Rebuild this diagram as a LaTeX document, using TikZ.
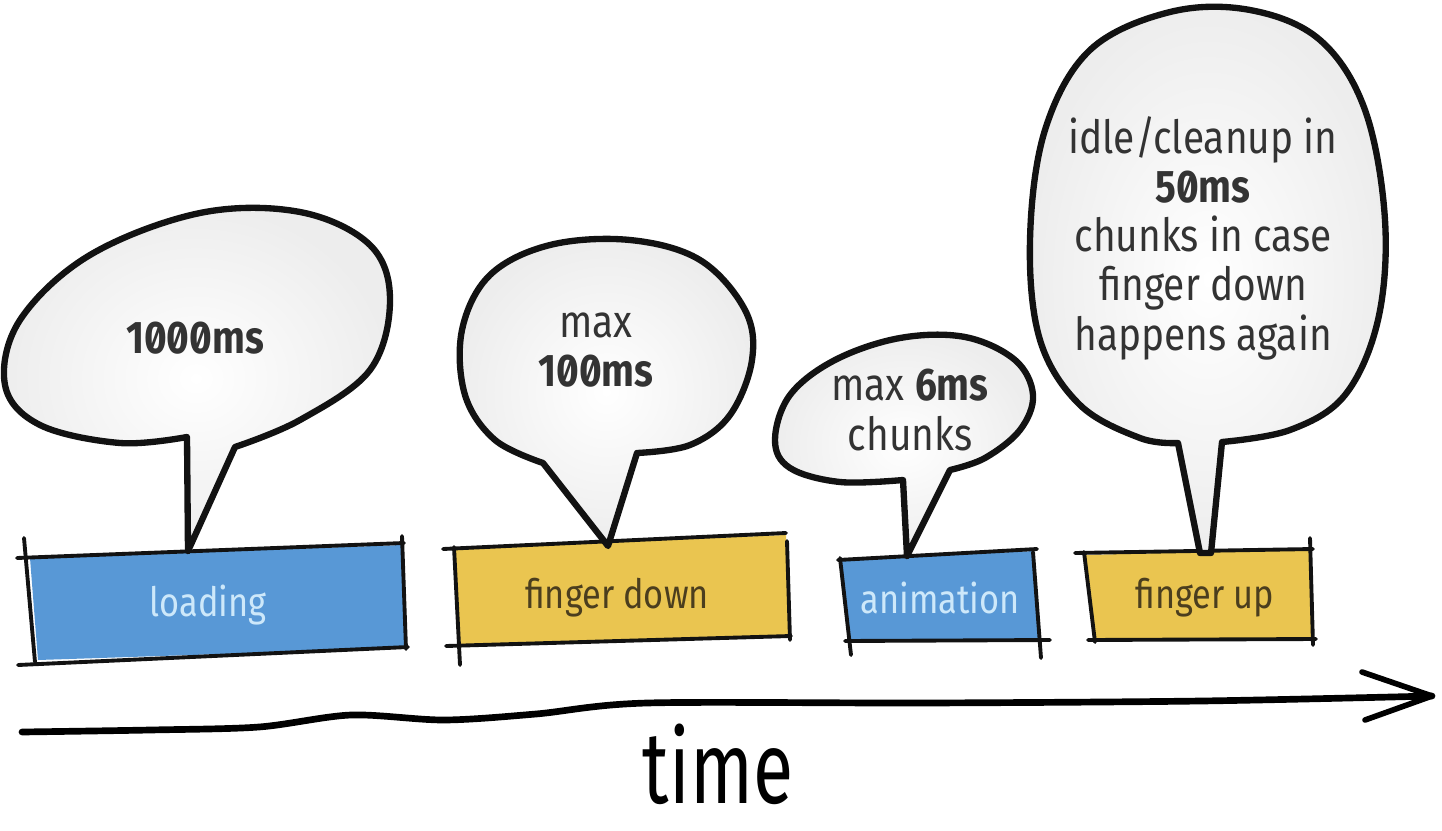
\documentclass[tikz,border=0pt]{standalone}
\usepackage{fontspec}
\setmainfont{Fira Sans}[FakeStretch=0.85,Numbers=SlashedZero]
\newfontfamily\timefont{Fira Sans}[FakeStretch=0.72]
\definecolor{loadblue}{RGB}{88,152,214}
\definecolor{tapyellow}{RGB}{234,197,80}
\definecolor{bluetext}{RGB}{205,232,250}
\definecolor{yellowtext}{RGB}{75,62,30}
\definecolor{ink}{RGB}{18,18,18}
\tikzset{
  bubble/.style={line width=1.8pt, draw=ink, inner color=white, outer color=black!7, line join=round},
  sketch/.style={line width=1.1pt, draw=ink, line cap=round},
  bubbletext/.style={font=\fontsize{13}{14}\selectfont, text=black!80, align=center},
  boxlabel/.style={font=\fontsize{11.5}{12}\selectfont},
}
\begin{document}
\begin{tikzpicture}[x=0.01cm,y=-0.01cm]
  \useasboundingbox (0,0) rectangle (1442,830);
  \coordinate (loadtip) at (188,551);
  \coordinate (taptip) at (608,546);
  \coordinate (animtip) at (907,556);
  \coordinate (uptipl) at (1200,553);
  \coordinate (uptipr) at (1211,553);
  \fill[loadblue] (30,558) -- (402,545) -- (405,648) -- (38,660) -- cycle;
  \draw[sketch] (17,558) -- (404,543);
  \draw[sketch] (24,538) -- (35,662);
  \draw[sketch] (18,665) -- (408,647);
  \draw[sketch] (402,536) -- (406,649);
  \node[boxlabel, text=bluetext] (loading) at (208,605) {loading};
  \fill[tapyellow] (455,548) -- (786,535) -- (789,637) -- (459,645) -- cycle;
  \draw[sketch] (443,549) -- (786,533);
  \draw[sketch] (454,547) -- (460,665);
  \draw[sketch] (446,646) -- (791,636);
  \draw[sketch] (787,541) -- (790,640);
  \node[boxlabel, text=yellowtext] (fingerdown) at (617,598) {finger down};
  \fill[loadblue] (841,560) -- (1034,551) -- (1038,640) -- (848,642) -- cycle;
  \draw[sketch] (838,560) -- (1037,549);
  \draw[sketch] (840,558) -- (851,655);
  \draw[sketch] (845,641) -- (1050,640);
  \draw[sketch] (1033,552) -- (1041,658);
  \node[boxlabel, text=bluetext] (animation) at (940,598) {animation};
  \fill[tapyellow] (1085,555) -- (1310,549) -- (1312,639) -- (1094,640) -- cycle;
  \draw[sketch] (1075,553) -- (1313,549);
  \draw[sketch] (1084,552) -- (1095,642);
  \draw[sketch] (1088,640) -- (1316,639);
  \draw[sketch] (1310,538) -- (1313,645);
  \node[boxlabel, text=yellowtext] (fingerup) at (1205,598) {finger up};
  \shadedraw[bubble] plot[smooth, tension=0.6] coordinates {(187,437) (120,443) (40,425) (5,385) (20,320) (90,255) (200,213) (300,212) (370,245) (390,300) (370,370) (300,420) (235,447)} -- (loadtip) -- cycle;
  \shadedraw[bubble] plot[smooth, tension=0.6] coordinates {(543,463) (495,440) (465,395) (462,330) (490,275) (550,245) (630,240) (700,260) (745,310) (752,360) (730,415) (690,445) (637,453)} -- (taptip) -- cycle;
  \shadedraw[bubble] plot[smooth, tension=0.6] coordinates {(903,480) (840,482) (790,468) (775,440) (790,395) (835,360) (900,338) (965,337) (1015,360) (1033,395) (1020,430) (985,458) (950,470)} -- (animtip) -- cycle;
  \shadedraw[bubble] plot[smooth, tension=0.6] coordinates {(1178,443) (1140,438) (1080,405) (1040,340) (1030,240) (1045,130) (1090,50) (1170,12) (1250,10) (1320,40) (1365,110) (1385,220) (1378,320) (1345,395) (1290,430) (1222,442)} -- (uptipr) -- (uptipl) -- cycle;
  \node[bubbletext] (loadms) at (195,338) {\bfseries 1000ms};
  \node[bubbletext] (tapms) at (596,350) {max\\\textbf{100ms}};
  \node[bubbletext] (animms) at (910,410) {max \textbf{6ms}\\chunks};
  \node[bubbletext] (idlems) at (1203,238) {idle/cleanup in\\\textbf{50ms}\\chunks in case\\finger down\\happens again};
  \coordinate (tstart) at (22,732);
  \coordinate (tend) at (1432,696);
  \draw[line width=1.9pt, line cap=round] plot[smooth, tension=0.5] coordinates {(tstart) (150,730) (259,727) (351,715) (444,720) (536,714) (647,703) (924,703) (1201,701) (tend)};
  \draw[line width=1.6pt, line cap=round, line join=round] (1362,672) -- (tend) -- (1365,720);
  \node[font=\timefont\fontsize{29}{29}\selectfont] (time) at (718,764) {time};
\end{tikzpicture}
\end{document}
